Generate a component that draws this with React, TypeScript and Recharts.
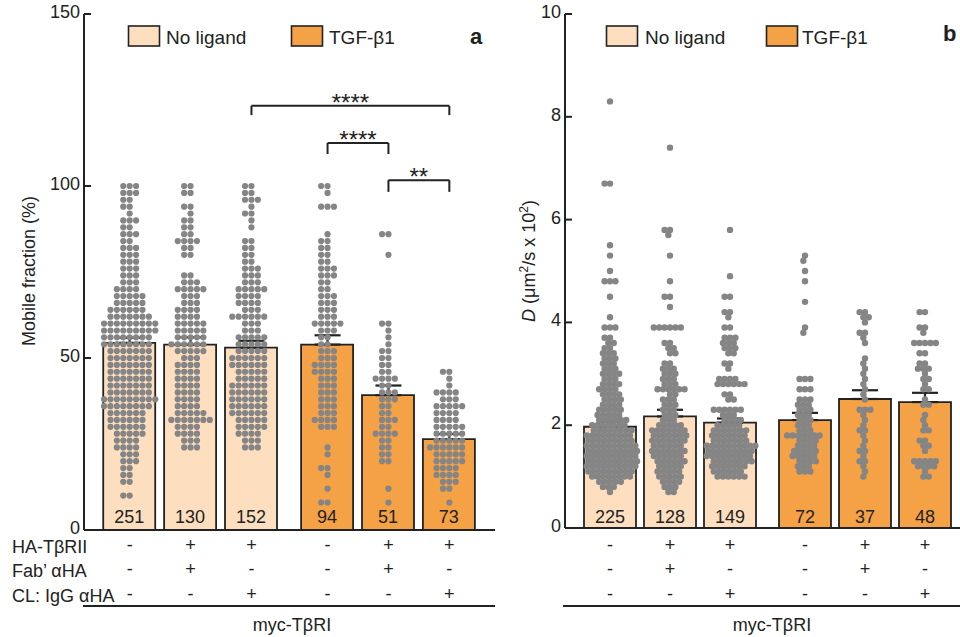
import React from "react";
import {
  ComposedChart,
  Bar,
  Scatter,
  XAxis,
  YAxis,
  ErrorBar,
  ReferenceLine,
  LabelList,
  Cell,
} from "recharts";

const FONT = "'Liberation Sans', Arial, Helvetica, sans-serif";
const INK = "#222";
const LIGHT = "#FDDFC0";
const ORANGE = "#F5A146";
const DOT = "#858585";

// six conditions, the gap between the 3rd and 4th is a bit wider
const positions = [0.75, 1.75, 2.75, 4, 5, 6];
const ligand = ["none", "none", "none", "TGF", "TGF", "TGF"];
const haTbRII = ["-", "+", "+", "-", "+", "+"];
const fabAHA = ["-", "+", "-", "-", "+", "-"];
const clIgG = ["-", "-", "+", "-", "-", "+"];

// panel a: mobile fraction (%)
const mobileMean = [54.4, 53.9, 53.0, 53.9, 39.2, 26.4];
const mobileSem = [1.5, 2.1, 2.0, 2.7, 2.8, 1.5];
const mobileN = [251, 130, 152, 94, 51, 73];

// panel b: D (um2/s x 10^2)
const diffMean = [1.97, 2.17, 2.05, 2.1, 2.51, 2.45];
const diffSem = [0.1, 0.13, 0.08, 0.14, 0.17, 0.18];
const diffN = [225, 128, 149, 72, 37, 48];

// single cells, as [value, how many dots sit at that value]
const mobile1 = [[100,3],[98,3],[96,2],[94,2],[92,1],[90,3],[88,2],[86,3],[84,2],[82,3],[80,3],[78,3],[76,3],[74,3],[72,3],[70,4],[68,5],[66,5],[64,6],[62,7],[60,9],[58,9],[56,8],[54,8],[52,7],[50,7],[48,7],[46,7],[44,7],[42,7],[40,7],[38,9],[36,8],[34,6],[32,6],[30,6],[28,5],[26,4],[24,4],[22,3],[20,3],[18,2],[16,2],[14,2],[10,2]];
const mobile2 = [[100,2],[98,2],[94,2],[92,1],[90,2],[88,2],[86,2],[84,4],[82,2],[80,2],[74,2],[72,3],[70,5],[68,3],[66,3],[64,4],[62,4],[60,5],[58,5],[56,5],[54,6],[52,5],[50,3],[48,4],[46,4],[44,4],[42,4],[40,4],[38,4],[36,4],[34,5],[32,7],[30,4],[28,4],[26,3],[24,3]];
const mobile3 = [[100,2],[98,2],[96,3],[94,1],[92,2],[90,1],[88,1],[84,2],[82,2],[80,2],[78,2],[76,3],[74,3],[72,3],[70,5],[68,4],[66,4],[64,3],[62,6],[60,3],[58,3],[56,5],[54,5],[52,5],[50,6],[48,6],[46,5],[44,5],[42,6],[40,6],[38,6],[36,6],[34,6],[32,5],[30,5],[28,4],[26,3],[24,3]];
const mobile4 = [[100,2],[98,1],[94,3],[86,1],[84,2],[82,2],[80,2],[78,2],[76,3],[74,3],[72,2],[70,2],[68,3],[66,3],[64,3],[62,3],[60,5],[58,3],[56,2],[54,2],[52,3],[50,3],[48,4],[46,4],[44,3],[42,3],[40,3],[38,3],[36,3],[34,3],[32,4],[30,3],[24,1],[22,1],[18,2],[16,1],[12,1],[8,2]];
const mobile5 = [[86,2],[80,1],[60,2],[58,1],[56,1],[54,1],[52,2],[50,2],[48,2],[46,2],[44,4],[42,2],[40,3],[38,3],[36,2],[34,2],[32,3],[30,2],[28,4],[26,2],[24,2],[22,2],[20,2],[12,1],[8,1]];
const mobile6 = [[46,2],[44,1],[42,1],[40,4],[38,3],[36,5],[34,4],[32,4],[30,5],[28,5],[26,5],[24,6],[22,5],[20,5],[18,4],[16,4],[14,3],[12,2],[8,1]];

const diff1 = [[8.3,1],[6.7,2],[5.5,1],[5.3,1],[5.0,1],[4.8,3],[4.5,1],[4.1,1],[3.9,3],[3.7,2],[3.6,2],[3.5,2],[3.4,3],[3.3,3],[3.2,3],[3.1,3],[3.0,4],[2.9,3],[2.8,4],[2.7,4],[2.6,4],[2.5,4],[2.4,4],[2.3,5],[2.2,5],[2.1,6],[2.0,7],[1.9,8],[1.8,9],[1.7,9],[1.6,10],[1.5,10],[1.4,10],[1.3,10],[1.2,10],[1.1,9],[1.0,8],[0.9,5],[0.8,3],[0.7,1]];
const diff2 = [[7.4,1],[5.8,2],[5.7,1],[5.3,1],[4.8,1],[4.5,2],[4.3,1],[3.9,6],[3.6,2],[3.5,2],[3.4,2],[3.2,2],[3.1,3],[3.0,3],[2.9,3],[2.8,3],[2.7,6],[2.6,2],[2.5,3],[2.4,3],[2.3,3],[2.2,3],[2.1,3],[2.0,5],[1.9,7],[1.8,7],[1.7,7],[1.6,6],[1.5,7],[1.4,6],[1.3,6],[1.2,5],[1.1,5],[1.0,5],[0.9,4],[0.8,3],[0.7,2]];
const diff3 = [[5.8,1],[4.9,1],[4.5,2],[4.2,2],[4.1,1],[3.9,2],[3.7,3],[3.6,3],[3.5,3],[3.4,2],[3.2,2],[3.1,1],[2.9,4],[2.8,6],[2.6,2],[2.5,2],[2.3,6],[2.2,3],[2.1,4],[2.0,5],[1.9,7],[1.8,7],[1.7,7],[1.6,10],[1.5,9],[1.4,9],[1.3,8],[1.2,7],[1.1,6],[1.0,6]];
const diff4 = [[5.3,1],[5.2,1],[5.0,1],[4.8,1],[4.4,1],[3.9,1],[3.8,1],[2.9,3],[2.7,3],[2.5,3],[2.4,3],[2.3,3],[2.2,3],[2.1,3],[2.0,3],[1.9,3],[1.8,7],[1.7,4],[1.6,4],[1.5,5],[1.4,5],[1.3,4],[1.2,3],[1.1,3]];
const diff5 = [[4.2,2],[4.1,2],[4.0,1],[3.8,2],[3.7,1],[3.6,1],[3.3,1],[3.2,1],[3.1,1],[3.0,1],[2.9,1],[2.8,1],[2.7,1],[2.6,1],[2.5,1],[2.3,3],[2.2,1],[2.1,1],[2.0,1],[1.9,2],[1.8,1],[1.7,1],[1.6,1],[1.5,2],[1.4,1],[1.3,2],[1.2,1],[1.1,1],[1.0,1]];
const diff6 = [[4.2,2],[3.9,2],[3.8,1],[3.6,5],[3.4,2],[3.2,2],[3.1,3],[3.0,1],[2.9,2],[2.8,1],[2.7,2],[2.5,1],[2.4,2],[2.2,1],[2.1,1],[2.0,1],[1.9,2],[1.7,2],[1.6,2],[1.5,1],[1.3,5],[1.2,4],[1.1,1],[1.0,2]];

// significance brackets on panel a
const brackets = [
  { from: 2.75, to: 6, top: 123.3, foot: 120.6, stars: "****" },
  { from: 4, to: 5, top: 112.5, foot: 109.3, stars: "****" },
  { from: 5, to: 6, top: 101.7, foot: 98.3, stars: "**" },
];

type Pt = { x: number; y: number };

// simple beeswarm: push each dot sideways until it no longer overlaps
function swarm(rows: number[][], center: number, pxX: number, pxY: number, gap: number): Pt[] {
  const placed: { dx: number; py: number }[] = [];
  const out: Pt[] = [];
  rows.forEach(([v, c]) => {
    for (let i = 0; i < c; i++) {
      const py = v * pxY;
      const blocks: number[][] = [];
      placed.forEach((p) => {
        const dy = Math.abs(p.py - py);
        if (dy < gap) {
          const w = Math.sqrt(gap * gap - dy * dy);
          blocks.push([p.dx - w, p.dx + w]);
        }
      });
      const cands = [0];
      blocks.forEach(([a, b]) => cands.push(a, b));
      cands.sort((a, b) => Math.abs(a) - Math.abs(b));
      const dx =
        cands.find((c) => blocks.every(([a, b]) => c <= a + 1e-6 || c >= b - 1e-6)) ?? 0;
      placed.push({ dx, py });
      out.push({ x: center + dx / pxX, y: v });
    }
  });
  return out;
}

function YTick({ x, y, payload }: any) {
  return (
    <g>
      <line x1={x} x2={x + 7} y1={y} y2={y} stroke={INK} strokeWidth={2} />
      <text x={x - 4} y={y + 4} textAnchor="end" fontSize={18} fontFamily={FONT} fill={INK}>
        {payload.value}
      </text>
    </g>
  );
}

function SignTick({ x, y, payload, top }: any) {
  const i = positions.indexOf(payload.value);
  return (
    <g>
      {[haTbRII, fabAHA, clIgG].map((row, k) => (
        <text
          key={k}
          x={x}
          y={y + top + k * 24.3}
          textAnchor="middle"
          fontSize={18}
          fontFamily={FONT}
          fill={INK}
        >
          {row[i]}
        </text>
      ))}
    </g>
  );
}

type PanelProps = {
  means: number[];
  sems: number[];
  counts: number[];
  dots: Pt[];
  dotR: number;
  yMax: number;
  yTicks: number[];
  yAxisWidth: number;
  marginRight: number;
  marginBottom: number;
  signTop: number;
  nLift: number;
  withBrackets?: boolean;
};

function Panel(p: PanelProps) {
  const bars = positions.map((x, i) => ({
    x,
    y: p.means[i],
    n: p.counts[i],
    err: [0, p.sems[i]],
  }));
  const frame = { stroke: INK, strokeWidth: 2 };
  const starData = brackets.map((b) => ({ x: (b.from + b.to) / 2, y: b.top, t: b.stars }));

  return (
    <ComposedChart
      width={500}
      height={637}
      data={bars}
      margin={{ top: 14, right: p.marginRight, bottom: p.marginBottom, left: 0 }}
    >
      <XAxis
        dataKey="x"
        type="number"
        domain={[0, 6.75]}
        ticks={positions}
        interval={0}
        tickSize={0}
        tickMargin={0}
        tickLine={false}
        height={80}
        axisLine={frame}
        tick={(t: any) => <SignTick {...t} top={p.signTop} />}
      />
      {/* bars get their own hidden axis so the dots do not shrink the band */}
      <XAxis xAxisId="bar" dataKey="x" type="number" domain={[0, 6.75]} ticks={positions} hide />
      <XAxis
        xAxisId="top"
        orientation="top"
        type="number"
        domain={[0, 1]}
        height={0}
        tick={false}
        tickLine={false}
        axisLine={frame}
      />
      <YAxis
        dataKey="y"
        type="number"
        domain={[0, p.yMax]}
        ticks={p.yTicks}
        interval={0}
        width={p.yAxisWidth}
        tickSize={0}
        tickMargin={0}
        tickLine={false}
        axisLine={frame}
        tick={(t: any) => <YTick {...t} />}
      />
      <YAxis
        yAxisId="right"
        orientation="right"
        type="number"
        domain={[0, 1]}
        width={0}
        tick={false}
        tickLine={false}
        axisLine={frame}
      />
      <Bar
        xAxisId="bar"
        dataKey="y"
        barSize={52}
        stroke={INK}
        strokeWidth={1.8}
        isAnimationActive={false}
      >
        {bars.map((_, i) => (
          <Cell key={i} fill={ligand[i] === "none" ? LIGHT : ORANGE} />
        ))}
        <LabelList
          dataKey="n"
          content={(l: any) => (
            <text
              x={Number(l.x) + Number(l.width) / 2}
              y={Number(l.y) + Number(l.height) - p.nLift}
              textAnchor="middle"
              fontSize={18}
              fontFamily={FONT}
              fill={INK}
            >
              {l.value}
            </text>
          )}
        />
      </Bar>
      <Scatter
        data={p.dots}
        dataKey="y"
        isAnimationActive={false}
        shape={(s: any) => <circle cx={s.cx} cy={s.cy} r={p.dotR} fill={DOT} />}
      />
      <Scatter data={bars} dataKey="y" isAnimationActive={false} shape={() => <g />}>
        <ErrorBar
          dataKey="err"
          direction="y"
          width={13}
          stroke={INK}
          strokeWidth={2.2}
          isAnimationActive={false}
        />
      </Scatter>
      {p.withBrackets &&
        brackets.flatMap((b, i) =>
          [
            [b.from, b.foot, b.from, b.top],
            [b.from, b.top, b.to, b.top],
            [b.to, b.top, b.to, b.foot],
          ].map((s, k) => (
            <ReferenceLine
              key={`${i}-${k}`}
              segment={[
                { x: s[0], y: s[1] },
                { x: s[2], y: s[3] },
              ]}
              stroke={INK}
              strokeWidth={2}
            />
          ))
        )}
      {p.withBrackets && (
        <Scatter
          data={starData}
          dataKey="y"
          isAnimationActive={false}
          shape={(s: any) => (
            <text x={s.cx} y={s.cy + 5} textAnchor="middle" fontSize={24} fontFamily={FONT} fill={INK}>
              {s.payload.t}
            </text>
          )}
        />
      )}
    </ComposedChart>
  );
}

function LegendRow({ x1, t1, x2, t2 }: { x1: number; t1: number; x2: number; t2: number }) {
  return (
    <g fontSize={19} fontFamily={FONT} fill={INK}>
      <rect x={x1} y={26} width={31} height={20} fill={LIGHT} stroke={INK} strokeWidth={1.6} />
      <text x={t1} y={44}>No ligand</text>
      <rect x={x2} y={26} width={31} height={20} fill={ORANGE} stroke={INK} strokeWidth={1.6} />
      <text x={t2} y={44}>TGF-β1</text>
    </g>
  );
}

export default function App() {
  const mobileGroups = [mobile1, mobile2, mobile3, mobile4, mobile5, mobile6];
  const diffGroups = [diff1, diff2, diff3, diff4, diff5, diff6];
  // plot area pixels per unit: a is 411 x 516 px, b is 405 x 514 px
  const dotsA = mobileGroups.flatMap((g, i) => swarm(g, positions[i], 411 / 6.75, 516 / 150, 6.4));
  const dotsB = diffGroups.flatMap((g, i) => swarm(g, positions[i], 405 / 6.75, 514 / 10, 5.4));

  return (
    <div
      style={{
        position: "absolute",
        left: 0,
        top: 0,
        width: 960,
        height: 637,
        overflow: "hidden",
        background: "#fff",
        fontFamily: FONT,
      }}
    >
      <div style={{ position: "absolute", left: 0, top: 0 }}>
        <Panel
          means={mobileMean}
          sems={mobileSem}
          counts={mobileN}
          dots={dotsA}
          dotR={3.1}
          yMax={150}
          yTicks={[0, 50, 100, 150]}
          yAxisWidth={84}
          marginRight={5}
          marginBottom={27}
          signTop={21}
          nLift={7}
          withBrackets
        />
      </div>
      <div style={{ position: "absolute", left: 480, top: 0 }}>
        <Panel
          means={diffMean}
          sems={diffSem}
          counts={diffN}
          dots={dotsB}
          dotR={3.2}
          yMax={10}
          yTicks={[0, 2, 4, 6, 8, 10]}
          yAxisWidth={85}
          marginRight={10}
          marginBottom={29}
          signTop={23}
          nLift={5}
        />
      </div>
      <svg
        width={960}
        height={637}
        style={{ position: "absolute", left: 0, top: 0, pointerEvents: "none" }}
      >
        <LegendRow x1={128.5} t1={166} x2={291.5} t2={329} />
        <LegendRow x1={606.5} t1={645} x2={766.5} t2={802} />
        <text x={470} y={44} fontSize={22} fontWeight="bold" fontFamily={FONT} fill={INK}>a</text>
        <text x={943} y={41} fontSize={22} fontWeight="bold" fontFamily={FONT} fill={INK}>b</text>

        <text
          transform="translate(35,271) rotate(-90)"
          textAnchor="middle"
          fontSize={18}
          fontFamily={FONT}
          fill={INK}
        >
          Mobile fraction (%)
        </text>
        <text
          transform="translate(535,261) rotate(-90)"
          textAnchor="middle"
          fontSize={18}
          fontFamily={FONT}
          fill={INK}
        >
          <tspan fontStyle="italic">D</tspan> (μm
          <tspan fontSize={12} dy={-7}>2</tspan>
          <tspan dy={7}>/s x 10</tspan>
          <tspan fontSize={12} dy={-7}>2</tspan>
          <tspan dy={7}>)</tspan>
        </text>

        <g fontSize={18} fontFamily={FONT} fill={INK}>
          <text x={12} y={553}>HA-TβRII</text>
          <text x={12} y={577}>Fab’ αHA</text>
          <text x={12} y={601.5}>CL: IgG αHA</text>
          <text x={292} y={631} textAnchor="middle">myc-TβRI</text>
          <text x={772} y={631} textAnchor="middle">myc-TβRI</text>
        </g>
        <line x1={83} x2={495} y1={606} y2={606} stroke={INK} strokeWidth={2} />
        <line x1={563} x2={960} y1={606} y2={606} stroke={INK} strokeWidth={2} />
      </svg>
    </div>
  );
}
